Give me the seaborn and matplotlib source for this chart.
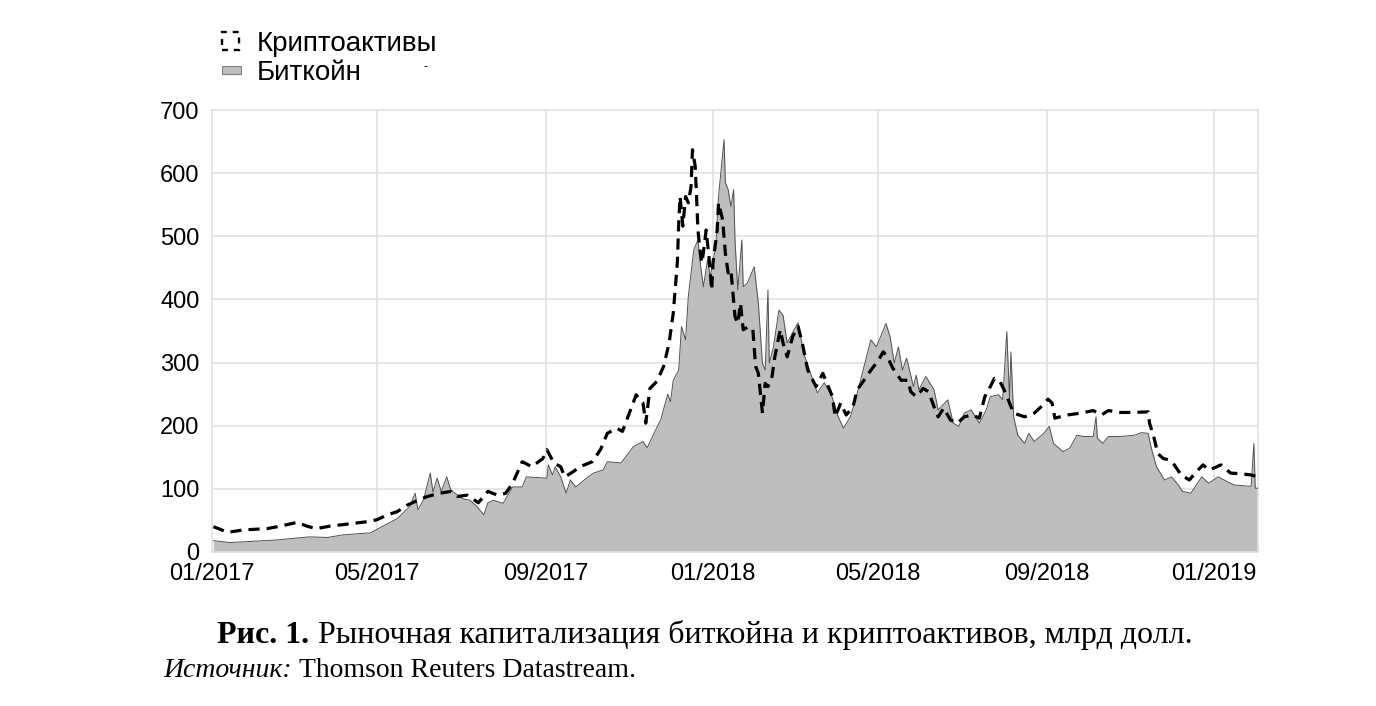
import pandas as pd
import matplotlib
matplotlib.use("Agg")
import matplotlib.pyplot as plt
import matplotlib.dates as mdates
import seaborn as sns
from matplotlib.patches import Patch, Rectangle
from matplotlib.legend_handler import HandlerPatch

# Рыночная капитализация, млрд долл.
btc_dates = [
    "2017-01-02", "2017-01-14", "2017-02-17", "2017-03-13", "2017-03-26", "2017-04-06", "2017-04-24", "2017-04-26", "2017-05-09", "2017-05-16",
    "2017-05-25", "2017-05-29", "2017-05-31", "2017-06-04", "2017-06-09", "2017-06-11", "2017-06-14", "2017-06-17", "2017-06-21", "2017-06-24",
    "2017-06-29", "2017-07-03", "2017-07-08", "2017-07-13", "2017-07-18", "2017-07-21", "2017-07-25", "2017-08-01", "2017-08-08", "2017-08-15",
    "2017-08-18", "2017-09-02", "2017-09-03", "2017-09-06", "2017-09-08", "2017-09-12", "2017-09-16", "2017-09-19", "2017-09-23", "2017-10-02",
    "2017-10-06", "2017-10-13", "2017-10-16", "2017-10-26", "2017-11-04", "2017-11-11", "2017-11-14", "2017-11-19", "2017-11-24", "2017-11-29",
    "2017-12-01", "2017-12-03", "2017-12-07", "2017-12-09", "2017-12-12", "2017-12-14", "2017-12-18", "2017-12-21", "2017-12-23", "2017-12-25",
    "2017-12-28", "2017-12-30", "2018-01-03", "2018-01-05", "2018-01-09", "2018-01-10", "2018-01-12", "2018-01-14", "2018-01-16", "2018-01-17",
    "2018-01-19", "2018-01-22", "2018-01-23", "2018-01-26", "2018-01-31", "2018-02-03", "2018-02-06", "2018-02-08", "2018-02-10", "2018-02-11",
    "2018-02-14", "2018-02-18", "2018-02-21", "2018-02-24", "2018-03-01", "2018-03-04", "2018-03-08", "2018-03-13", "2018-03-18", "2018-03-23",
    "2018-03-28", "2018-04-02", "2018-04-06", "2018-04-11", "2018-04-16", "2018-04-21", "2018-04-26", "2018-04-30", "2018-05-03", "2018-05-07",
    "2018-05-10", "2018-05-13", "2018-05-16", "2018-05-19", "2018-05-22", "2018-05-27", "2018-05-29", "2018-05-31", "2018-06-05", "2018-06-11",
    "2018-06-14", "2018-06-21", "2018-06-25", "2018-06-29", "2018-07-03", "2018-07-08", "2018-07-14", "2018-07-19", "2018-07-22", "2018-07-28",
    "2018-07-31", "2018-08-03", "2018-08-05", "2018-08-06", "2018-08-08", "2018-08-11", "2018-08-16", "2018-08-19", "2018-08-23", "2018-08-30",
    "2018-09-03", "2018-09-06", "2018-09-13", "2018-09-18", "2018-09-23", "2018-09-28", "2018-10-05", "2018-10-07", "2018-10-08", "2018-10-12",
    "2018-10-16", "2018-10-25", "2018-11-04", "2018-11-09", "2018-11-14", "2018-11-16", "2018-11-20", "2018-11-26", "2018-12-01", "2018-12-06",
    "2018-12-09", "2018-12-15", "2018-12-23", "2018-12-28", "2019-01-04", "2019-01-11", "2019-01-16", "2019-01-28", "2019-01-30", "2019-01-31",
    "2019-02-02",
]
btc_values = [
    18, 15, 19, 24, 23, 27, 30, 30, 45, 53,
    72, 93, 67, 82, 125, 95, 117, 96, 119, 98,
    90, 84, 82, 72, 59, 78, 82, 77, 103, 103,
    119, 117, 138, 122, 135, 119, 93, 114, 103, 119,
    125, 130, 143, 141, 167, 175, 165, 188, 210, 250,
    238, 272, 288, 357, 336, 405, 479, 494, 452, 420,
    463, 436, 484, 563, 653, 585, 574, 547, 574, 494,
    415, 494, 420, 426, 452, 394, 299, 288, 415, 299,
    325, 383, 375, 331, 352, 363, 315, 283, 252, 268,
    250, 215, 196, 214, 251, 294, 336, 325, 341, 362,
    341, 299, 325, 288, 307, 262, 280, 257, 278, 257,
    225, 241, 204, 199, 220, 225, 204, 225, 246, 249,
    241, 349, 241, 317, 214, 185, 172, 188, 175, 188,
    199, 172, 159, 165, 185, 183, 183, 214, 180, 172,
    183, 183, 185, 189, 188, 167, 135, 114, 119, 106,
    96, 93, 119, 109, 119, 111, 106, 104, 172, 101,
    101,
]

crypto_dates = [
    "2017-01-02", "2017-01-07", "2017-01-12", "2017-01-24", "2017-02-10", "2017-02-20", "2017-03-04", "2017-03-11", "2017-03-18", "2017-03-28",
    "2017-04-09", "2017-04-24", "2017-05-01", "2017-05-09", "2017-05-16", "2017-05-23", "2017-05-31", "2017-06-07", "2017-06-16", "2017-06-24",
    "2017-06-29", "2017-07-06", "2017-07-14", "2017-07-21", "2017-07-28", "2017-08-03", "2017-08-08", "2017-08-15", "2017-08-22", "2017-08-30",
    "2017-09-02", "2017-09-07", "2017-09-12", "2017-09-15", "2017-09-21", "2017-09-26", "2017-10-05", "2017-10-11", "2017-10-16", "2017-10-23",
    "2017-10-27", "2017-10-31", "2017-11-06", "2017-11-11", "2017-11-13", "2017-11-16", "2017-11-21", "2017-11-26", "2017-11-30", "2017-12-03",
    "2017-12-06", "2017-12-07", "2017-12-08", "2017-12-10", "2017-12-12", "2017-12-14", "2017-12-16", "2017-12-17", "2017-12-19", "2017-12-20",
    "2017-12-21", "2017-12-23", "2017-12-24", "2017-12-27", "2017-12-29", "2017-12-31", "2018-01-01", "2018-01-04", "2018-01-05", "2018-01-08",
    "2018-01-10", "2018-01-12", "2018-01-14", "2018-01-17", "2018-01-19", "2018-01-21", "2018-01-23", "2018-01-27", "2018-01-30", "2018-02-01",
    "2018-02-03", "2018-02-06", "2018-02-08", "2018-02-10", "2018-02-13", "2018-02-15", "2018-02-19", "2018-02-21", "2018-02-24", "2018-02-28",
    "2018-03-04", "2018-03-07", "2018-03-11", "2018-03-17", "2018-03-22", "2018-03-26", "2018-03-29", "2018-03-31", "2018-04-04", "2018-04-08",
    "2018-04-13", "2018-04-16", "2018-04-21", "2018-04-26", "2018-05-01", "2018-05-05", "2018-05-08", "2018-05-12", "2018-05-18", "2018-05-23",
    "2018-05-25", "2018-05-29", "2018-06-03", "2018-06-07", "2018-06-11", "2018-06-14", "2018-06-18", "2018-06-23", "2018-06-28", "2018-07-03",
    "2018-07-09", "2018-07-14", "2018-07-18", "2018-07-22", "2018-07-25", "2018-07-29", "2018-08-01", "2018-08-05", "2018-08-08", "2018-08-16",
    "2018-08-23", "2018-08-28", "2018-09-02", "2018-09-05", "2018-09-07", "2018-09-16", "2018-09-26", "2018-10-05", "2018-10-11", "2018-10-16",
    "2018-10-25", "2018-11-04", "2018-11-14", "2018-11-15", "2018-11-18", "2018-11-21", "2018-11-25", "2018-11-29", "2018-12-03", "2018-12-08",
    "2018-12-14", "2018-12-19", "2018-12-24", "2018-12-28", "2019-01-01", "2019-01-06", "2019-01-13", "2019-01-20", "2019-01-28", "2019-02-02",
]
crypto_values = [
    40, 36, 31, 35, 37, 41, 47, 41, 37, 41,
    44, 48, 51, 59, 64, 74, 82, 88, 93, 96,
    88, 90, 78, 96, 90, 93, 109, 143, 135, 148,
    162, 141, 135, 119, 127, 135, 143, 162, 188, 196,
    191, 214, 249, 236, 204, 259, 270, 294, 331, 378,
    458, 521, 563, 516, 563, 553, 579, 637, 611, 563,
    510, 468, 458, 510, 468, 415, 458, 510, 553, 526,
    473, 442, 447, 373, 362, 394, 352, 357, 352, 294,
    283, 220, 267, 262, 278, 309, 352, 331, 309, 341,
    357, 331, 288, 262, 283, 262, 246, 214, 236, 217,
    230, 257, 272, 288, 302, 317, 309, 291, 272, 272,
    254, 246, 259, 254, 230, 214, 228, 209, 204, 214,
    217, 212, 246, 262, 275, 270, 257, 236, 220, 214,
    220, 230, 242, 236, 212, 217, 220, 224, 217, 224,
    221, 221, 222, 204, 183, 156, 148, 146, 138, 122,
    114, 127, 138, 130, 133, 138, 125, 124, 122, 119,
]

legend_labels = ["Криптоактивы", "Биткойн"]
caption_bold = "Рис. 1."
caption_text = "Рыночная капитализация биткойна и криптоактивов, млрд долл."
source_label = "Источник:"
source_text = "Thomson Reuters Datastream."

btc = pd.DataFrame({"date": pd.to_datetime(btc_dates), "value": btc_values})
crypto = pd.DataFrame({"date": pd.to_datetime(crypto_dates), "value": crypto_values})

sns.set_theme(style="whitegrid")
plt.rcParams["font.family"] = ["Liberation Sans", "DejaVu Sans"]
plt.rcParams["text.color"] = "black"

W, H = 1376, 706
fig = plt.figure(figsize=(W / 100, H / 100), dpi=100)
ax = fig.add_axes([212 / W, 1 - 552 / H, (1258 - 212) / W, (552 - 110) / H])

grid_col = "#e2e2e2"
ax.fill_between(btc["date"], btc["value"], color="#bebebe", linewidth=0, zorder=2)
sns.lineplot(data=btc, x="date", y="value", color="#505050", linewidth=0.7, ax=ax, zorder=3)
sns.lineplot(data=crypto, x="date", y="value", color="black", linewidth=2.3,
             linestyle=(0, (3.5, 2.2)), ax=ax, zorder=4)

ax.set_xlim(pd.Timestamp("2017-01-01"), pd.Timestamp("2019-02-02"))
ax.set_ylim(0, 700)
ax.set_yticks(range(0, 701, 100))
ax.xaxis.set_major_locator(mdates.MonthLocator(bymonth=[1, 5, 9]))
ax.xaxis.set_major_formatter(mdates.DateFormatter("%m/%Y"))
ax.set_xlabel("")
ax.set_ylabel("")
ax.set_facecolor("white")
ax.grid(True, color=grid_col, linewidth=1.2)
ax.set_axisbelow(True)
for s in ax.spines.values():
    s.set_color(grid_col)
    s.set_linewidth(1.2)
ax.tick_params(axis="both", labelsize=17, labelcolor="black", length=0)
ax.tick_params(axis="y", pad=9)
ax.tick_params(axis="x", pad=8)


def make_flat(legend, orig_handle, xdescent, ydescent, width, height, fontsize):
    return Rectangle((-xdescent, -ydescent + height * 0.28), width * 1.1, height * 0.42)


handles = [
    Patch(facecolor="white", edgecolor="black", linestyle=(0, (2.5, 2.5)), linewidth=1.7),
    Patch(facecolor="#bebebe", edgecolor="#808080", linewidth=0.8),
]
fig.legend(handles, legend_labels, loc="upper left", bbox_to_anchor=(222 / W, 1 - 31 / H),
           frameon=False, fontsize=20, handlelength=0.62, handleheight=0.62,
           handletextpad=0.62, labelspacing=0.1, borderaxespad=0, borderpad=0,
           handler_map={handles[1]: HandlerPatch(patch_func=make_flat)})
fig.text(423 / W, 1 - 70 / H, "-", fontsize=9, color="black")

serif = ["Liberation Serif", "DejaVu Serif"]
fig.text(217 / W, 1 - 643 / H, caption_bold, family=serif, fontweight="bold", fontsize=23, va="baseline")
fig.text(318 / W, 1 - 643 / H, caption_text, family=serif, fontsize=23, va="baseline")

# подпись источника: курсивная часть, затем обычный текст сразу за ней
src = fig.text(163 / W, 1 - 677 / H, source_label, family=serif, style="italic", fontsize=20, va="baseline")
renderer = fig.canvas.get_renderer()
src_end = src.get_window_extent(renderer).x1
fig.text((src_end + 7) / W, 1 - 677 / H, source_text, family=serif, fontsize=20, va="baseline")

fig.savefig("out.png", dpi=100, facecolor="white")
